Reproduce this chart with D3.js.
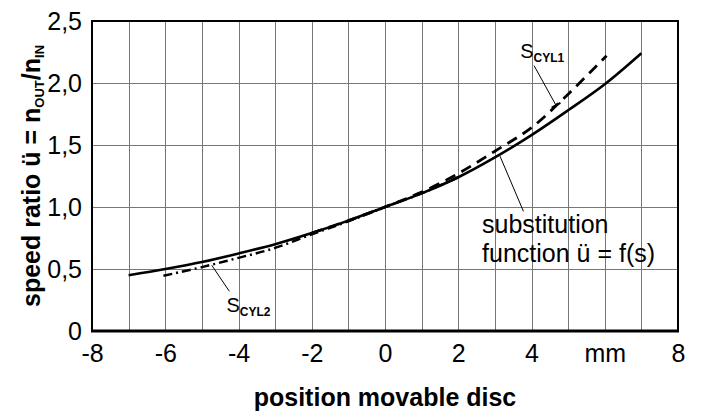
<!DOCTYPE html>
<html>
<head>
<meta charset="utf-8">
<script src="https://cdn.jsdelivr.net/npm/d3@7"></script>
<style>
  html, body { margin: 0; padding: 0; background: #fff; }
  svg { display: block; font-family: "Liberation Sans", Arial, sans-serif; }
</style>
</head>
<body>
<svg id="chart" width="705" height="415"></svg>
<script>
// position of movable disc (mm) and speed ratio values
const subX = [-7, -6, -5, -4, -3, -2, -1, 0, 1, 2, 3, 4, 5, 6, 7];
const subY = [0.45, 0.50, 0.556, 0.625, 0.70, 0.79, 0.89, 1.0, 1.11, 1.24, 1.40, 1.58, 1.78, 1.99, 2.24];

const cyl1X = [-2, -1, 0, 1, 2, 3, 4, 5, 6.05];
const cyl1Y = [0.79, 0.89, 1.0, 1.12, 1.27, 1.45, 1.64, 1.91, 2.22];

const cyl2X = [-6.05, -5, -4, -3, -2, -1, 0, 1, 2];
const cyl2Y = [0.445, 0.515, 0.59, 0.67, 0.78, 0.885, 1.0, 1.11, 1.24];

const xTicks = [-8, -6, -4, -2, 0, 2, 4, 6, 8];
const xTickLabels = ["-8", "-6", "-4", "-2", "0", "2", "4", "mm", "8"];
const yTicks = [0, 0.5, 1.0, 1.5, 2.0, 2.5];
const yTickLabels = ["0", "0,5", "1,0", "1,5", "2,0", "2,5"];

const width = 705, height = 415;
const margin = { top: 21, right: 27, bottom: 84, left: 92 };

const svg = d3.select("#chart");

const x = d3.scaleLinear().domain([-8, 8]).range([margin.left, width - margin.right]);
const y = d3.scaleLinear().domain([0, 2.5]).range([height - margin.bottom, margin.top]);

// grid
const grid = svg.append("g").attr("stroke", "#777").attr("stroke-width", 1);
grid.selectAll(".vg")
  .data(d3.range(-7, 8))
  .enter()
  .append("line")
  .attr("x1", (d) => Math.round(x(d)) + 0.5)
  .attr("x2", (d) => Math.round(x(d)) + 0.5)
  .attr("y1", y(2.5))
  .attr("y2", y(0));
grid.selectAll(".hg")
  .data([0.5, 1.0, 1.5, 2.0])
  .enter()
  .append("line")
  .attr("x1", x(-8))
  .attr("x2", x(8))
  .attr("y1", (d) => Math.round(y(d)) + 0.5)
  .attr("y2", (d) => Math.round(y(d)) + 0.5);

// curves
const toPts = (xs, ys) => xs.map((v, i) => [v, ys[i]]);
const line = d3.line()
  .x((d) => x(d[0]))
  .y((d) => y(d[1]))
  .curve(d3.curveCatmullRom.alpha(0.5));

svg.append("path")
  .attr("d", line(toPts(cyl2X, cyl2Y)))
  .attr("fill", "none")
  .attr("stroke", "#000")
  .attr("stroke-width", 2.5)
  .attr("stroke-dasharray", "9,4,2,4");

svg.append("path")
  .attr("d", line(toPts(cyl1X, cyl1Y)))
  .attr("fill", "none")
  .attr("stroke", "#000")
  .attr("stroke-width", 2.8)
  .attr("stroke-dasharray", "11,7");

svg.append("path")
  .attr("d", line(toPts(subX, subY)))
  .attr("fill", "none")
  .attr("stroke", "#000")
  .attr("stroke-width", 2.6);

// frame
svg.append("rect")
  .attr("x", x(-8))
  .attr("y", y(2.5))
  .attr("width", x(8) - x(-8))
  .attr("height", y(0) - y(2.5))
  .attr("fill", "none")
  .attr("stroke", "#000")
  .attr("stroke-width", 2);
svg.append("line")
  .attr("x1", x(-8) - 1)
  .attr("x2", x(8) + 1)
  .attr("y1", y(0))
  .attr("y2", y(0))
  .attr("stroke", "#000")
  .attr("stroke-width", 3);

// axes (labels only)
const xAxis = svg.append("g")
  .attr("transform", `translate(0, ${y(0)})`)
  .call(d3.axisBottom(x).tickValues(xTicks).tickSize(0).tickPadding(13)
    .tickFormat((d, i) => xTickLabels[i]));
xAxis.select(".domain").remove();
xAxis.selectAll("text")
  .attr("font-size", 25)
  .attr("font-family", "Liberation Sans, Arial, sans-serif")
  .attr("fill", "#000");

const yAxis = svg.append("g")
  .attr("transform", `translate(${x(-8)}, 0)`)
  .call(d3.axisLeft(y).tickValues(yTicks).tickSize(0).tickPadding(10)
    .tickFormat((d, i) => yTickLabels[i]));
yAxis.select(".domain").remove();
yAxis.selectAll("text")
  .attr("font-size", 25)
  .attr("font-family", "Liberation Sans, Arial, sans-serif")
  .attr("fill", "#000");

// axis titles
svg.append("text")
  .attr("x", (x(-8) + x(8)) / 2)
  .attr("y", 406)
  .attr("text-anchor", "middle")
  .attr("font-size", 25)
  .attr("font-weight", "bold")
  .text("position movable disc");

const yt = svg.append("text")
  .attr("transform", `translate(40, ${(y(0) + y(2.5)) / 2}) rotate(-90)`)
  .attr("text-anchor", "middle")
  .attr("font-size", 25)
  .attr("font-weight", "bold");
yt.append("tspan").text("speed ratio ü = n");
yt.append("tspan").attr("font-size", 13).attr("dy", 4).text("OUT");
yt.append("tspan").attr("dy", -4).text("/n");
yt.append("tspan").attr("font-size", 13).attr("dy", 4).text("IN");

// annotations (data coordinates)
const ann = svg.append("g").attr("stroke", "#000").attr("stroke-width", 1);
// S_CYL1 leader with small cross tick
ann.append("line")
  .attr("x1", x(4.07)).attr("y1", y(2.14))
  .attr("x2", x(4.67)).attr("y2", y(1.82));
{
  const ex = x(4.67), ey = y(1.82);
  const dx = x(4.67) - x(4.07), dy = y(1.82) - y(2.14);
  const len = Math.hypot(dx, dy);
  const px = -dy / len * 5, py = dx / len * 5;
  ann.append("line")
    .attr("x1", ex - px).attr("y1", ey - py)
    .attr("x2", ex + px).attr("y2", ey + py)
    .attr("stroke-width", 2);
}
// S_CYL2 leader
ann.append("line")
  .attr("x1", x(-4.73)).attr("y1", y(0.53))
  .attr("x2", x(-4.25)).attr("y2", y(0.32));
// substitution function leader
ann.append("line")
  .attr("x1", x(3.14)).attr("y1", y(1.41))
  .attr("x2", x(3.78)).attr("y2", y(0.965));

function subLabel(sx, sy, main, sub) {
  const t = svg.append("text")
    .attr("x", x(sx))
    .attr("y", y(sy))
    .attr("font-size", 20);
  t.append("tspan").text(main);
  t.append("tspan").attr("font-size", 12).attr("font-weight", "bold").attr("dy", 4).text(sub);
}
subLabel(3.69, 2.20, "S", "CYL1");
subLabel(-4.33, 0.155, "S", "CYL2");

svg.append("text")
  .attr("x", x(2.65))
  .attr("y", y(0.79))
  .attr("font-size", 25)
  .text("substitution");
svg.append("text")
  .attr("x", x(2.65))
  .attr("y", y(0.56))
  .attr("font-size", 25)
  .text("function ü = f(s)");
</script>
</body>
</html>
